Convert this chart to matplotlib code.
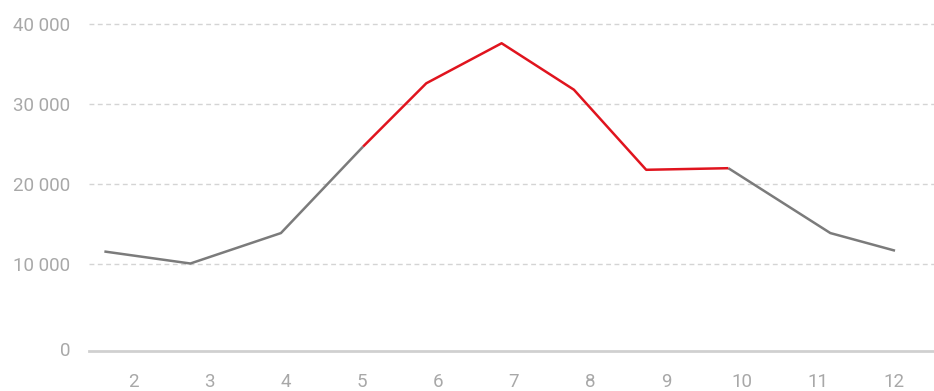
import matplotlib
matplotlib.use("Agg")
import matplotlib.pyplot as plt

# ============================================================
# Data (x in month units)
# ============================================================

months = [1.62, 2.75, 3.94, 5.02, 5.85, 6.84, 7.79, 8.74, 9.82, 11.16, 12.01]
values = [11600, 10100, 13900, 24700, 32600, 37600, 31800, 21800, 22000, 13900, 11700]

# indices of the highlighted (red) stretch
hl_start, hl_end = 3, 8

tick_months = [2, 3, 4, 5, 6, 7, 8, 9, 10, 11, 12]
tick_values = [10000, 20000, 30000, 40000]

GRAY = "#7b7b7b"
RED = "#e0141e"
TEXT = "#a8a8a8"

plt.rcParams["font.family"] = ["Roboto", "DejaVu Sans"]

# ============================================================
# Figure
# ============================================================

W, H = 934, 391
fig = plt.figure(figsize=(W / 100, H / 100), dpi=100)
ax = fig.add_axes([89 / W, (H - 351) / H, 1 - 89 / W, 351 / H])

ax.plot(months[:hl_start + 1], values[:hl_start + 1], color=GRAY, lw=1.8,
        solid_joinstyle="round", solid_capstyle="butt", zorder=3)
ax.plot(months[hl_end:], values[hl_end:], color=GRAY, lw=1.8,
        solid_joinstyle="round", solid_capstyle="butt", zorder=3)
ax.plot(months[hl_start:hl_end + 1], values[hl_start:hl_end + 1], color=RED, lw=1.8,
        solid_joinstyle="round", solid_capstyle="butt", zorder=4)

ax.set_xlim(1.418, 12.522)
ax.set_ylim(-824, 43000)

ax.set_xticks(tick_months)
ax.set_xticklabels([str(m) for m in tick_months])
ax.set_yticks(tick_values)
ax.set_yticklabels([f"{v:,}".replace(",", " ") for v in tick_values])

ax.grid(axis="y", color="#d4d4d4", lw=1, linestyle=(0, (3.5, 2.5)))
ax.set_axisbelow(True)

for side in ["top", "right", "left"]:
    ax.spines[side].set_visible(False)
ax.spines["bottom"].set_color("#d0d0d0")
ax.spines["bottom"].set_linewidth(2)

ax.tick_params(axis="both", length=0, labelsize=13.5, labelcolor=TEXT)
ax.tick_params(axis="y", pad=13.5)
ax.tick_params(axis="x", pad=16)

# zero label sits on the baseline
ax.text(-13.5 / 72 * 100 / 845, 0, "0", transform=ax.transAxes, ha="right", va="center",
        fontsize=13.5, color=TEXT)

fig.savefig("out.png", dpi=100)
